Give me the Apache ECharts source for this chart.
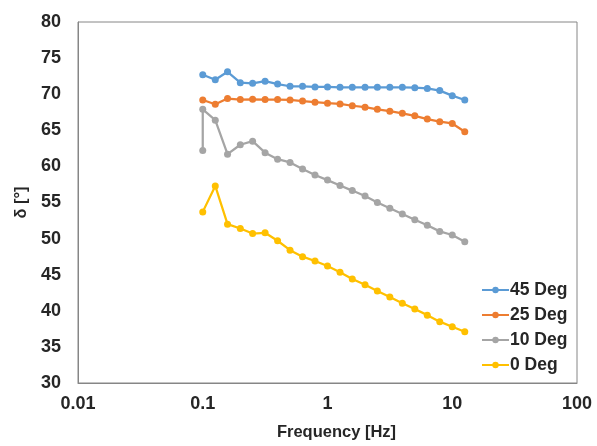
<!DOCTYPE html>
<html>
<head>
<meta charset="utf-8">
<script src="https://cdn.jsdelivr.net/npm/echarts@6/dist/echarts.min.js"></script>
<style>
  html, body { margin: 0; padding: 0; background: #fff; }
  #main { width: 597px; height: 446px; }
</style>
</head>
<body>
<div id="main"></div>
<script>
// frequencies [Hz], 10 points per decade from 0.1
var freqs = [0.1, 0.126, 0.158, 0.2, 0.251, 0.316, 0.398, 0.501, 0.631, 0.794,
             1, 1.26, 1.58, 2, 2.51, 3.16, 3.98, 5.01, 6.31, 7.94, 10, 12.6];
// 10 Deg has two readings at 0.1 Hz
var freqs10 = [0.1].concat(freqs);

var deg45 = [72.7, 72.0, 73.1, 71.6, 71.5, 71.8, 71.4, 71.1, 71.1, 71.0, 71.0,
             70.95, 70.95, 70.95, 70.95, 70.95, 70.95, 70.9, 70.8, 70.5, 69.8, 69.2];
var deg25 = [69.2, 68.6, 69.4, 69.25, 69.3, 69.25, 69.25, 69.2, 69.05, 68.9, 68.75,
             68.65, 68.4, 68.2, 67.9, 67.65, 67.35, 67.0, 66.55, 66.2, 65.95, 64.8];
var deg10 = [62.2, 67.9, 66.4, 61.7, 63.0, 63.5, 61.9, 61.0, 60.55, 59.65, 58.8,
             58.1, 57.35, 56.65, 55.9, 55.0, 54.2, 53.4, 52.6, 51.85, 51.0, 50.5, 49.55];
var deg0 = [53.7, 57.3, 52.0, 51.4, 50.7, 50.8, 49.7, 48.4, 47.5, 46.9, 46.2,
            45.35, 44.4, 43.6, 42.75, 41.9, 41.05, 40.25, 39.4, 38.5, 37.8, 37.1];

var names = ['45 Deg', '25 Deg', '10 Deg', '0 Deg'];
var colors = ['#5B9BD5', '#ED7D31', '#A5A5A5', '#FFC000'];

function pairs(xs, ys) {
    return ys.map(function (y, i) { return [xs[i], y]; });
}

var seriesData = [pairs(freqs, deg45), pairs(freqs, deg25), pairs(freqs10, deg10), pairs(freqs, deg0)];

var chart = echarts.init(document.getElementById('main'));
var font = '"Liberation Sans", Arial, sans-serif';
var textColor = '#262626';
var option = {
    animation: false,
    backgroundColor: '#fff',
    grid: {
        left: 78, right: 20, top: 22, bottom: 63,
        show: true, borderColor: '#868686', borderWidth: 1
    },
    legend: {
        orient: 'vertical',
        left: 476, top: 276,
        itemWidth: 27, itemHeight: 8, itemGap: 7,
        data: names,
        textStyle: { fontFamily: font, fontWeight: 'bold', fontSize: 17.5, color: textColor, padding: [0, 0, 0, -4] }
    },
    xAxis: {
        type: 'log', logBase: 10, min: 0.01, max: 100,
        name: 'Frequency [Hz]', nameLocation: 'middle', nameGap: 41,
        nameTextStyle: { fontFamily: font, fontWeight: 'bold', fontSize: 16.5, color: textColor, padding: [0, 0, 0, 18] },
        axisLine: { lineStyle: { color: '#868686' } },
        axisTick: { show: false },
        splitLine: { show: false },
        minorTick: { show: false },
        axisLabel: {
            fontFamily: font, fontWeight: 'bold', fontSize: 18, color: textColor, margin: 12,
            formatter: function (v) { return String(v); }
        }
    },
    yAxis: {
        type: 'value', min: 30, max: 80, interval: 5,
        name: 'δ [°]', nameLocation: 'middle', nameGap: 38, nameRotate: 90,
        nameTextStyle: { fontFamily: font, fontWeight: 'bold', fontSize: 16.5, color: textColor },
        axisLine: { show: true, lineStyle: { color: '#868686' } },
        axisTick: { show: false },
        splitLine: { show: false },
        axisLabel: { fontFamily: font, fontWeight: 'bold', fontSize: 18, color: textColor, margin: 17 }
    },
    series: names.map(function (n, i) {
        return {
            name: n,
            type: 'line',
            data: seriesData[i],
            symbol: 'circle',
            symbolSize: 7,
            itemStyle: { color: colors[i] },
            lineStyle: { color: colors[i], width: 2.25 }
        };
    })
};
chart.setOption(option);
window.addEventListener('resize', function () { chart.resize(); });
</script>
</body>
</html>
